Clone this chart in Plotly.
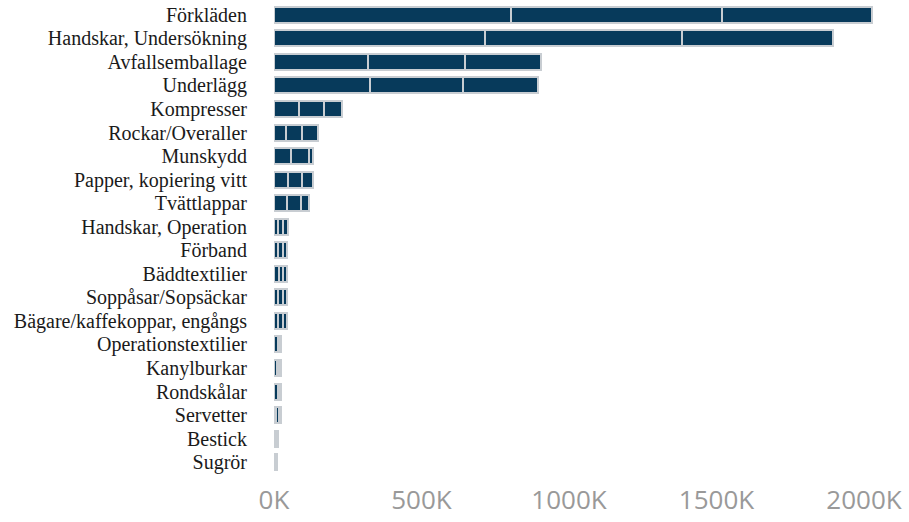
import plotly.graph_objects as go

categories = ["Förkläden", "Handskar, Undersökning", "Avfallsemballage", "Underlägg",
              "Kompresser", "Rockar/Overaller", "Munskydd", "Papper, kopiering vitt",
              "Tvättlappar", "Handskar, Operation", "Förband", "Bäddtextilier",
              "Soppåsar/Sopsäckar", "Bägare/kaffekoppar, engångs", "Operationstextilier",
              "Kanylburkar", "Rondskålar", "Servetter", "Bestick", "Sugrör"]

seg1 = [803000, 716000, 317000, 326000, 86000, 42000, 58000, 49000, 44000, 14000,
        13000, 17000, 13000, 13000, 12000, 11000, 12000, 8000, 5000, 3000]
seg2 = [715000, 667000, 331000, 314000, 85000, 53000, 62000, 45000, 47000, 18000,
        17000, 14000, 18000, 17000, 6000, 6000, 6000, 8000, 5000, 3000]
seg3 = [508000, 513000, 257000, 256000, 59000, 53000, 13000, 38000, 28000, 15000,
        14000, 13000, 13000, 14000, 6000, 6000, 6000, 8000, 5000, 3000]

tick_vals = [0, 500000, 1000000, 1500000, 2000000]
tick_text = ["0K", "500K", "1000K", "1500K", "2000K"]

fig = go.Figure()
for name, vals in [("Del 1", seg1), ("Del 2", seg2), ("Del 3", seg3)]:
    fig.add_trace(go.Bar(
        y=categories, x=vals, orientation="h", name=name,
        marker=dict(color="#073a5b", line=dict(color="#c8cdd2", width=2)),
        hoverinfo="skip",
    ))

fig.update_layout(
    barmode="stack",
    bargap=0.32,
    width=909, height=522,
    margin=dict(l=274, r=30, t=3, b=48, autoexpand=False),
    paper_bgcolor="white", plot_bgcolor="white",
    showlegend=False,
)
fig.update_yaxes(
    range=[19.5, -0.5], showgrid=False, zeroline=False, showline=False,
    tickmode="array", tickvals=categories, ticktext=categories,
    tickfont=dict(family="Liberation Serif", size=20, color="#1a1a1a"),
    ticklabelstandoff=26, ticks="", automargin=False,
)
fig.update_xaxes(
    range=[0, 2050847], tickvals=tick_vals, ticktext=tick_text,
    showgrid=False, zeroline=False, showline=False, ticks="",
    tickfont=dict(family="Open Sans", size=26, color="#999999"),
    ticklabelstandoff=8, automargin=False,
)
fig.write_html("out.html", config={"displayModeBar": False},
               post_script="document.body.style.margin='0px';")
